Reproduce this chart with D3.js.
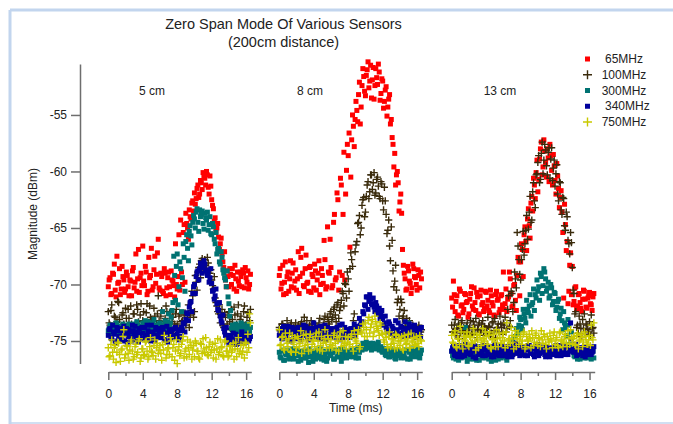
<!DOCTYPE html>
<html><head><meta charset="utf-8">
<script src="https://cdn.jsdelivr.net/npm/d3@7"></script>
<style>
body{margin:0;background:#fff}
svg{display:block}
text{font-family:"Liberation Sans",Arial,sans-serif;fill:#222}
</style>
</head><body>
<svg id="c" width="673" height="424"></svg>
<script>
// ---------------- data ----------------
const chartTitle = ["Zero Span Mode Of Various Sensors", "(200cm distance)"];
const yLabel = "Magnitude (dBm)";
const xLabel = "Time (ms)";
const panelLabels = ["5 cm", "8 cm", "13 cm"];
const seriesNames = ["65MHz", "100MHz", "300MHz", "340MHz", "750MHz"];
const legendLabels = [" 65MHz", "100MHz", "300MHz", " 340MHz", "750MHz"];
const yTicks = [-55, -60, -65, -70, -75];
const xMajorTicks = [0, 4, 8, 12, 16];
const xMinorTicks = [2, 6, 10, 14];

// time samples (ms) of sweep A and sweep B
const times = [0,0.2,0.4,0.6,0.8,1,1.2,1.4,1.6,1.8,
2,2.2,2.4,2.6,2.8,3,3.2,3.4,3.6,3.8,
4,4.2,4.4,4.6,4.8,5,5.2,5.4,5.6,5.8,
6,6.2,6.4,6.6,6.8,7,7.2,7.4,7.6,7.8,
8,8.2,8.4,8.6,8.8,9,9.2,9.4,9.6,9.8,
10,10.2,10.4,10.6,10.8,11,11.2,11.4,11.6,11.8,
12,12.2,12.4,12.6,12.8,13,13.2,13.4,13.6,13.8,
14,14.2,14.4,14.6,14.8,15,15.2,15.4,15.6,15.8,
16,16.2,16.4];
const timesB = [0.1,0.3,0.5,0.7,0.9,1.1,1.3,1.5,1.7,1.9,
2.1,2.3,2.5,2.7,2.9,3.1,3.3,3.5,3.7,3.9,
4.1,4.3,4.5,4.7,4.9,5.1,5.3,5.5,5.7,5.9,
6.1,6.3,6.5,6.7,6.9,7.1,7.3,7.5,7.7,7.9,
8.1,8.3,8.5,8.7,8.9,9.1,9.3,9.5,9.7,9.9,
10.1,10.3,10.5,10.7,10.9,11.1,11.3,11.5,11.7,11.9,
12.1,12.3,12.5,12.7,12.9,13.1,13.3,13.5,13.7,13.9,
14.1,14.3,14.5,14.7,14.9,15.1,15.3,15.5,15.7,15.9,
16.1,16.3,16.5];

// ---- 5 cm ----
const red5 = [-70.2,-69.4,-70.8,-69.1,-70.5,-67.5,-69.8,-70.9,-68.4,-69.6,
-70.4,-69.2,-71.0,-69.7,-68.8,-70.3,-67.3,-69.5,-70.7,-69.0,
-66.6,-70.1,-68.9,-70.6,-69.4,-66.8,-70.2,-67.5,-69.1,-66.0,
-70.5,-69.3,-70.8,-69.0,-70.3,-68.9,-70.9,-69.6,-70.1,-66.4,
-70.4,-65.6,-64.3,-70.0,-64.7,-63.7,-65.0,-63.4,-64.2,-62.6,
-61.9,-62.4,-61.2,-62.0,-61.0,-60.1,-60.6,-60.0,-61.4,-60.4,
-62.5,-63.3,-64.1,-65.0,-65.8,-66.4,-67.3,-68.5,-69.6,-68.8,
-70.2,-69.1,-68.6,-70.4,-69.5,-68.9,-70.1,-69.3,-68.7,-70.3,
-69.4,-68.8,-70.0];
const red5B = [-69.6,-70.9,-69.0,-68.2,-71.1,-69.9,-68.6,-70.4,-69.3,-70.7,
-68.9,-70.2,-69.6,-71.0,-68.5,-69.8,-70.6,-66.9,-69.4,-70.1,
-69.7,-68.4,-70.9,-67.6,-69.2,-70.5,-68.7,-69.9,-67.2,-70.3,
-69.0,-70.6,-68.6,-71.0,-69.4,-70.2,-68.8,-69.7,-71.1,-70.0,
-69.3,-70.5,-68.9,-65.4,-69.8,-64.6,-66.0,-64.0,-62.8,-63.5,
-62.9,-61.5,-62.3,-60.8,-61.6,-60.5,-61.2,-60.3,-62.0,-61.3,
-63.0,-64.4,-65.3,-64.6,-66.9,-65.9,-68.0,-67.1,-70.2,-69.3,
-68.6,-70.0,-69.2,-68.3,-70.6,-69.7,-68.9,-70.2,-69.0,-68.5,
-69.8,-70.4,-69.1];
const brown5 = [-72.4,-73.6,-71.8,-74.0,-72.9,-73.3,-71.6,-74.2,-72.7,-73.5,
-72.1,-73.9,-73.0,-71.9,-74.1,-72.6,-73.4,-72.2,-73.8,-71.7,
-73.2,-74.0,-72.5,-73.6,-71.9,-73.1,-74.2,-72.8,-73.5,-71.0,
-73.7,-72.3,-74.0,-73.0,-72.4,-73.9,-72.7,-73.3,-74.1,-72.6,
-73.5,-72.8,-74.0,-73.2,-72.7,-73.6,-72.9,-73.8,-72.3,-71.0,
-72.4,-69.8,-68.9,-68.2,-67.9,-68.4,-67.8,-68.6,-68.1,-69.0,
-69.6,-70.4,-71.2,-71.9,-72.6,-73.4,-72.2,-73.8,-72.9,-73.5,
-72.4,-73.9,-73.1,-72.0,-73.7,-72.6,-74.0,-72.8,-73.4,-71.9,
-73.6,-72.5,-73.2];
const brown5B = [-73.4,-72.3,-74.3,-72.8,-73.7,-71.5,-73.1,-74.0,-72.5,-73.8,
-73.0,-72.2,-74.2,-73.5,-72.6,-73.9,-71.8,-73.3,-72.7,-74.1,
-72.4,-73.5,-71.7,-74.0,-72.9,-73.6,-72.1,-73.9,-72.6,-73.2,
-72.8,-74.1,-73.3,-71.9,-73.7,-72.5,-74.0,-72.9,-73.5,-72.2,
-73.9,-72.6,-73.3,-74.1,-72.5,-73.2,-71.8,-72.7,-70.6,-72.9,
-69.2,-70.5,-68.5,-69.4,-67.7,-68.8,-68.3,-67.6,-69.3,-68.7,
-70.1,-69.3,-71.6,-72.4,-71.8,-72.9,-73.6,-72.5,-74.0,-72.7,
-73.3,-72.2,-74.1,-72.7,-73.5,-71.8,-73.1,-74.0,-72.4,-73.6,
-72.9,-73.8,-72.2];
const teal5 = [-74.1,-73.6,-74.3,-73.8,-74.0,-73.5,-74.2,-73.9,-73.7,-74.4,
-73.8,-74.1,-73.5,-74.0,-73.7,-74.3,-73.9,-73.6,-74.2,-73.8,
-73.4,-74.0,-73.7,-73.3,-74.1,-73.8,-73.5,-74.2,-73.6,-73.9,
-73.4,-74.0,-73.6,-73.2,-73.8,-72.6,-73.4,-72.3,-67.5,-71.4,
-67.3,-70.2,-68.6,-69.4,-67.6,-66.2,-66.8,-65.3,-65.7,-64.5,
-64.2,-63.6,-64.5,-63.4,-63.8,-64.6,-63.7,-64.3,-65.2,-64.0,
-65.6,-64.9,-66.4,-67.3,-66.8,-68.2,-67.6,-69.0,-69.6,-68.8,
-71.7,-72.3,-73.6,-74.0,-73.5,-74.2,-73.8,-73.4,-74.1,-73.7,
-74.0,-73.5,-74.2];
const teal5B = [-73.9,-74.3,-73.6,-74.0,-73.4,-74.2,-73.7,-74.1,-73.5,-73.9,
-74.2,-73.6,-73.9,-74.4,-73.5,-74.0,-73.3,-74.1,-73.7,-74.3,
-73.6,-73.2,-74.1,-73.8,-73.4,-74.0,-73.1,-73.7,-74.2,-73.5,
-73.9,-72.4,-73.6,-74.1,-73.3,-73.8,-72.9,-71.6,-69.2,-68.4,
-71.8,-68.0,-72.4,-66.4,-70.6,-65.6,-67.9,-64.8,-66.5,-63.9,
-65.0,-63.3,-65.3,-64.0,-63.5,-65.1,-64.1,-63.6,-64.7,-65.5,
-64.6,-66.0,-65.4,-66.9,-68.0,-67.1,-68.7,-69.4,-70.2,-71.1,
-72.8,-73.9,-74.2,-73.6,-74.0,-73.7,-74.3,-73.5,-73.9,-74.1,
-73.6,-74.0,-73.8];
const blue5 = [-74.5,-73.9,-74.8,-74.2,-75.0,-73.8,-74.6,-74.1,-74.9,-73.7,
-74.4,-75.1,-74.0,-74.7,-73.6,-74.5,-74.9,-74.2,-73.9,-74.8,
-74.3,-73.8,-74.9,-74.1,-74.6,-73.6,-74.4,-75.0,-74.0,-74.7,
-73.9,-74.5,-74.2,-74.9,-73.7,-74.4,-74.8,-74.0,-74.6,-73.8,
-74.4,-74.9,-74.1,-74.0,-73.5,-73.1,-72.6,-72.0,-71.5,-70.8,
-70.0,-69.3,-68.8,-68.6,-68.3,-68.5,-68.2,-68.7,-68.9,-69.4,
-69.9,-70.5,-71.0,-71.7,-72.3,-72.8,-73.4,-73.9,-74.5,-74.8,
-75.2,-74.6,-74.9,-75.3,-74.4,-75.0,-74.7,-75.2,-74.5,-74.9,
-75.1,-74.6,-74.8];
const blue5B = [-74.0,-74.7,-73.6,-74.4,-75.2,-74.1,-73.9,-74.8,-74.3,-75.0,
-73.9,-74.6,-74.2,-75.0,-74.1,-73.7,-74.6,-75.1,-74.4,-73.8,
-74.8,-74.5,-73.6,-74.3,-75.0,-74.2,-74.9,-73.8,-74.5,-74.1,
-74.7,-73.8,-74.9,-74.3,-75.1,-74.0,-74.2,-74.7,-73.9,-74.5,
-74.0,-74.6,-73.8,-73.4,-74.2,-72.5,-73.2,-71.6,-72.4,-70.2,
-70.8,-68.9,-69.6,-68.1,-69.0,-67.9,-68.8,-69.2,-69.8,-68.6,
-70.6,-71.3,-70.4,-72.2,-71.6,-73.2,-72.7,-74.2,-73.8,-75.0,
-74.5,-75.1,-74.3,-74.8,-75.3,-74.6,-74.9,-74.2,-75.2,-74.7,
-74.4,-75.0,-74.6];
const yellow5 = [-75.6,-76.3,-74.9,-76.6,-75.4,-76.0,-75.2,-76.8,-75.7,-74.0,
-76.2,-75.5,-76.7,-75.1,-75.9,-76.4,-75.3,-76.0,-74.8,-76.5,
-75.7,-76.2,-75.0,-76.6,-75.5,-75.9,-76.3,-74.9,-75.6,-76.1,
-75.4,-76.7,-75.8,-75.1,-76.2,-75.6,-74.7,-76.4,-75.3,-75.9,
-77.0,-75.5,-76.1,-75.0,-76.5,-75.7,-74.9,-76.2,-75.4,-75.8,
-76.4,-75.2,-75.9,-76.6,-75.3,-74.8,-76.0,-75.6,-76.3,-75.1,
-75.8,-76.5,-75.2,-75.7,-76.2,-74.9,-75.5,-76.4,-75.0,-75.9,
-76.3,-75.4,-75.8,-76.6,-75.1,-75.7,-76.1,-75.3,-75.9,-76.5,
-75.2,-74.4,-72.6];
const yellow5B = [-76.4,-75.3,-76.0,-75.6,-76.9,-75.1,-76.2,-75.8,-74.6,-76.5,
-75.4,-76.1,-75.8,-74.9,-76.6,-75.5,-76.2,-75.0,-76.8,-75.7,
-76.3,-75.1,-75.9,-76.4,-74.7,-76.0,-75.4,-76.6,-75.2,-75.8,
-76.1,-75.3,-74.5,-76.5,-75.7,-76.2,-75.0,-75.6,-76.7,-74.9,
-75.8,-76.3,-75.3,-74.6,-75.9,-76.4,-75.6,-75.1,-76.6,-75.4,
-75.0,-75.9,-76.5,-75.2,-76.1,-75.7,-74.7,-76.2,-75.5,-76.0,
-75.3,-75.8,-76.6,-74.8,-76.0,-75.6,-76.3,-75.1,-75.9,-76.4,
-75.5,-76.0,-75.2,-75.7,-76.4,-74.7,-75.9,-76.2,-75.4,-75.1,
-76.0,-75.6,-73.4];

// ---- 8 cm ----
const red8 = [-69.2,-70.4,-68.3,-69.8,-70.8,-68.9,-69.5,-70.2,-68.1,-69.7,
-70.5,-67.1,-69.3,-66.8,-70.1,-68.6,-69.9,-70.6,-68.4,-69.1,
-70.3,-68.8,-69.6,-67.9,-70.0,-69.2,-66.1,-70.4,-64.9,-69.0,
-68.5,-70.1,-63.8,-69.4,-62.5,-68.9,-61.2,-63.8,-69.6,-59.9,
-58.6,-66.7,-57.2,-56.0,-55.4,-54.6,-53.2,-55.8,-52.4,-51.6,
-53.3,-51.0,-52.6,-50.6,-51.9,-53.6,-50.9,-52.3,-51.2,-53.1,
-52.0,-53.8,-52.5,-54.3,-53.2,-55.4,-57.6,-58.4,-60.3,-61.0,
-62.7,-63.7,-68.3,-69.5,-70.4,-68.8,-69.9,-70.3,-68.6,-69.4,
-70.5,-69.2,-68.9];
const red8B = [-68.6,-69.9,-70.9,-68.0,-69.3,-70.6,-67.9,-69.0,-70.3,-68.7,
-69.5,-70.8,-67.6,-69.0,-70.2,-67.4,-69.8,-68.5,-70.7,-69.3,
-68.2,-70.5,-69.0,-70.9,-68.6,-69.9,-67.8,-70.2,-68.9,-66.0,
-70.3,-64.5,-69.6,-61.9,-70.5,-60.6,-69.2,-58.3,-62.0,-57.6,
-56.6,-60.5,-55.0,-57.8,-53.8,-55.6,-52.1,-54.3,-50.9,-52.9,
-51.5,-50.3,-52.0,-53.5,-50.8,-52.4,-51.7,-50.5,-53.7,-51.8,
-54.4,-52.8,-55.1,-53.6,-55.8,-57.0,-59.6,-61.2,-60.0,-63.5,
-62.0,-66.9,-69.0,-70.5,-68.4,-69.7,-70.8,-68.2,-69.3,-70.0,
-68.7,-70.3,-69.5];
const brown8 = [-73.8,-74.3,-73.5,-74.0,-74.4,-73.7,-74.1,-73.4,-74.2,-73.9,
-74.3,-73.6,-74.0,-73.3,-73.8,-74.4,-73.2,-73.9,-74.1,-73.5,
-74.0,-73.7,-74.3,-73.4,-73.9,-74.2,-73.1,-73.8,-72.9,-73.5,
-72.4,-72.9,-72.0,-73.3,-71.6,-72.3,-71.4,-70.8,-69.9,-71.2,
-69.5,-68.6,-67.8,-73.2,-67.1,-66.2,-64.5,-65.6,-63.0,-62.3,
-63.6,-61.2,-62.4,-60.3,-61.6,-60.1,-61.9,-60.5,-62.2,-60.9,
-62.6,-61.4,-63.8,-65.2,-66.6,-64.9,-68.8,-69.7,-70.5,-71.3,
-72.2,-71.6,-72.8,-73.4,-73.0,-74.1,-73.7,-74.3,-73.9,-74.5,
-74.0,-73.6,-74.2];
const brown8B = [-74.1,-73.5,-74.4,-73.9,-73.2,-74.0,-73.6,-74.3,-73.8,-73.4,
-73.9,-74.2,-73.5,-74.0,-72.9,-73.7,-74.3,-73.6,-73.2,-74.0,
-73.5,-74.1,-73.8,-73.0,-74.2,-73.6,-72.8,-73.9,-73.3,-72.6,
-73.1,-72.2,-72.7,-71.8,-73.0,-72.0,-70.6,-71.9,-70.0,-68.9,
-70.6,-67.2,-68.4,-72.6,-66.5,-64.6,-63.9,-65.0,-62.5,-64.0,
-62.2,-60.9,-61.8,-60.3,-61.0,-62.1,-60.7,-61.3,-62.4,-61.1,
-63.4,-62.6,-65.5,-64.3,-67.9,-66.1,-70.2,-68.3,-71.6,-72.8,
-71.3,-73.0,-72.3,-73.7,-74.0,-73.2,-74.4,-73.6,-74.1,-73.8,
-74.3,-73.9,-74.0];
const teal8 = [-76.0,-76.5,-75.8,-76.7,-76.2,-75.9,-76.6,-76.1,-76.4,-75.7,
-76.3,-76.8,-75.9,-76.2,-76.5,-75.8,-76.4,-76.9,-76.0,-76.3,
-75.9,-76.6,-76.1,-76.4,-75.7,-76.2,-76.7,-76.0,-76.5,-75.8,
-76.3,-76.0,-76.6,-75.9,-76.4,-76.1,-76.8,-75.7,-76.2,-76.5,
-76.0,-76.3,-75.8,-76.4,-76.1,-75.9,-76.5,-75.6,-75.8,-75.4,
-75.7,-75.3,-75.6,-75.2,-75.5,-75.3,-75.7,-75.4,-75.8,-75.5,
-76.0,-75.7,-76.3,-75.9,-76.4,-76.1,-75.8,-76.5,-76.2,-75.9,
-76.3,-76.0,-76.0,-76.5,-75.8,-73.4,-76.6,-75.9,-76.3,-76.0,
-75.7,-76.4,-76.1];
const teal8B = [-76.4,-75.9,-76.7,-76.1,-75.8,-76.5,-76.2,-75.7,-76.6,-76.0,
-75.8,-76.3,-76.7,-76.0,-75.9,-76.5,-76.2,-75.7,-76.4,-76.8,
-76.2,-75.8,-76.5,-76.0,-76.6,-75.9,-76.3,-76.8,-75.7,-76.2,
-76.0,-76.6,-75.8,-76.4,-76.2,-75.7,-76.5,-76.1,-75.9,-76.3,
-76.4,-75.9,-76.2,-75.8,-76.5,-75.6,-76.0,-75.5,-75.2,-75.7,
-75.1,-75.6,-75.3,-75.8,-75.2,-75.6,-75.4,-75.1,-75.6,-75.9,
-75.7,-76.2,-75.9,-76.4,-75.8,-76.3,-76.0,-76.6,-75.8,-76.1,
-76.5,-75.9,-76.2,-75.8,-76.6,-76.0,-76.3,-75.7,-76.4,-76.1,
-76.0,-76.5,-75.8];
const blue8 = [-74.5,-73.9,-74.8,-74.1,-74.6,-73.7,-74.3,-75.0,-74.0,-74.4,
-74.8,-73.8,-74.2,-74.7,-73.6,-74.5,-74.1,-74.9,-73.9,-74.3,
-73.4,-74.6,-74.0,-74.8,-73.7,-74.4,-74.2,-74.9,-73.8,-74.5,
-74.1,-74.7,-73.9,-74.3,-74.8,-73.6,-74.2,-74.6,-73.8,-74.4,
-74.0,-74.7,-74.2,-73.9,-74.5,-73.7,-74.1,-73.6,-73.3,-72.6,
-71.9,-71.1,-71.5,-71.3,-71.8,-72.0,-71.6,-72.3,-72.1,-72.7,
-73.0,-73.4,-73.8,-74.2,-73.5,-74.4,-73.9,-74.6,-74.1,-73.4,
-74.5,-73.8,-74.2,-73.3,-74.6,-74.0,-73.7,-74.4,-74.1,-74.7,
-73.9,-74.3,-74.6];
const blue8B = [-74.2,-74.8,-73.7,-74.5,-74.0,-74.9,-74.3,-73.8,-74.6,-74.1,
-73.9,-74.5,-74.9,-74.0,-74.4,-73.7,-74.7,-74.2,-74.8,-73.9,
-74.3,-73.8,-74.5,-74.0,-74.8,-74.1,-73.6,-74.4,-74.7,-73.9,
-74.6,-74.0,-74.5,-73.8,-74.2,-74.9,-73.5,-74.3,-74.7,-74.0,
-74.4,-73.9,-74.6,-73.5,-74.2,-73.8,-73.0,-73.4,-72.4,-71.8,
-71.1,-72.2,-70.9,-71.7,-71.2,-72.4,-71.9,-72.6,-73.0,-72.3,
-73.6,-72.8,-74.0,-73.3,-74.3,-73.7,-74.5,-73.2,-74.0,-74.4,
-73.7,-74.3,-74.6,-73.9,-74.2,-73.5,-74.5,-74.0,-73.6,-74.3,
-74.5,-74.0,-73.8];
const yellow8 = [-74.0,-75.3,-74.6,-75.8,-74.9,-75.5,-74.3,-76.0,-75.1,-74.7,
-75.6,-74.8,-75.2,-76.1,-74.5,-75.4,-74.9,-75.9,-74.4,-75.3,
-75.0,-74.6,-75.7,-74.2,-75.4,-75.9,-74.8,-75.1,-74.5,-75.6,
-74.9,-75.4,-74.3,-75.8,-75.0,-74.6,-75.5,-74.1,-75.2,-75.7,
-74.7,-75.3,-74.4,-75.9,-74.8,-75.2,-74.0,-75.5,-74.3,-73.8,
-73.4,-74.6,-72.9,-73.8,-73.1,-74.2,-73.3,-73.9,-74.5,-73.6,
-74.4,-75.1,-74.7,-75.6,-74.2,-75.3,-74.9,-75.7,-74.5,-75.0,
-75.4,-74.6,-75.8,-74.9,-75.2,-74.4,-75.6,-75.0,-74.7,-75.3,
-74.8,-75.5,-74.9];
const yellow8B = [-75.4,-74.7,-75.7,-74.3,-75.2,-74.8,-75.9,-74.5,-75.3,-76.0,
-74.6,-75.5,-74.1,-75.0,-75.7,-74.4,-75.3,-74.7,-75.8,-74.9,
-75.5,-74.3,-75.0,-75.8,-74.6,-75.2,-74.0,-75.6,-74.8,-75.3,
-75.6,-74.5,-75.2,-74.7,-75.9,-74.2,-75.0,-75.4,-74.6,-75.1,
-75.3,-74.6,-75.5,-74.1,-75.0,-74.4,-75.7,-74.2,-73.5,-74.6,
-74.0,-73.2,-74.3,-73.5,-74.6,-72.8,-73.7,-74.1,-73.4,-74.3,
-74.9,-74.3,-75.3,-74.6,-75.5,-74.8,-75.2,-74.4,-75.6,-74.7,
-75.0,-75.7,-74.5,-75.3,-74.8,-75.6,-74.3,-75.1,-75.4,-74.6,
-75.2,-74.5,-75.0];

// ---- 13 cm ----
const red13 = [-71.2,-69.7,-72.4,-71.0,-72.8,-70.6,-71.8,-72.2,-70.9,-71.5,
-72.6,-70.8,-71.9,-70.3,-72.3,-71.1,-72.7,-70.5,-71.6,-72.1,
-70.7,-71.4,-72.5,-71.0,-71.9,-72.8,-70.6,-71.3,-72.2,-70.9,
-68.9,-71.7,-72.4,-71.1,-69.5,-72.0,-70.1,-71.4,-69.2,-68.0,
-68.0,-66.9,-65.6,-66.2,-64.2,-64.8,-62.8,-63.5,-61.2,-60.1,
-61.8,-58.9,-57.4,-59.6,-58.2,-60.5,-58.8,-57.6,-59.9,-58.5,
-60.8,-59.3,-61.5,-62.3,-63.6,-71.2,-64.7,-66.2,-70.6,-67.2,
-68.4,-71.5,-70.2,-71.9,-70.8,-72.1,-71.3,-70.6,-72.0,-71.2,
-70.7,-71.8,-71.1];
const red13B = [-72.0,-70.9,-71.5,-72.7,-70.4,-71.9,-72.5,-70.8,-71.6,-72.9,
-71.3,-70.2,-72.2,-71.6,-70.7,-72.6,-71.0,-71.8,-72.4,-70.6,
-71.9,-72.3,-70.5,-71.6,-72.7,-70.9,-71.4,-72.5,-71.0,-71.8,
-72.2,-70.4,-71.3,-68.9,-70.8,-71.9,-70.0,-72.3,-67.6,-71.0,
-66.4,-69.3,-64.9,-67.0,-63.3,-65.9,-62.2,-60.6,-62.4,-59.0,
-60.7,-58.0,-60.3,-57.2,-59.2,-58.0,-60.9,-58.6,-61.2,-59.5,
-62.0,-60.4,-63.2,-61.7,-65.4,-62.9,-67.0,-71.7,-68.3,-70.9,
-71.8,-70.3,-72.2,-70.9,-71.6,-72.4,-70.5,-71.3,-72.1,-71.0,
-71.7,-72.3,-70.8];
const brown13 = [-73.6,-74.2,-73.1,-73.9,-73.5,-74.3,-73.2,-73.8,-74.2,-73.4,
-73.9,-73.2,-74.4,-73.6,-73.0,-74.0,-73.4,-74.1,-73.2,-73.7,
-73.9,-72.9,-73.8,-74.3,-73.3,-73.0,-74.0,-73.5,-72.8,-73.8,
-73.4,-72.9,-73.9,-71.0,-73.2,-70.8,-71.6,-69.5,-65.4,-67.8,
-69.6,-66.9,-67.4,-65.2,-66.0,-63.6,-64.5,-61.8,-62.6,-60.3,
-59.2,-61.0,-58.4,-60.2,-57.6,-59.5,-58.3,-60.6,-57.9,-59.7,
-61.3,-59.4,-62.6,-61.0,-63.8,-62.4,-65.2,-64.0,-66.4,-65.4,
-68.5,-70.8,-72.4,-73.6,-72.8,-73.9,-73.1,-72.6,-73.5,-74.0,
-73.3,-72.7,-73.8];
const brown13B = [-74.2,-73.6,-74.5,-73.9,-74.8,-73.4,-74.1,-74.6,-73.7,-74.3,
-73.8,-74.4,-73.3,-74.0,-74.7,-73.6,-74.2,-73.5,-74.5,-73.9,
-74.3,-73.7,-74.6,-73.4,-74.1,-74.7,-73.8,-74.2,-73.5,-74.4,
-73.6,-74.2,-72.2,-73.7,-70.6,-72.4,-68.9,-70.3,-66.6,-69.1,
-67.8,-65.3,-66.4,-63.9,-65.1,-62.2,-64.3,-61.0,-63.2,-60.2,
-58.6,-60.7,-57.4,-59.0,-58.1,-60.3,-57.9,-58.9,-60.8,-59.0,
-60.2,-62.0,-60.9,-63.4,-62.3,-64.8,-63.6,-66.1,-67.3,-66.3,
-70.5,-72.6,-73.8,-74.3,-73.5,-74.6,-73.9,-74.4,-73.6,-74.2,
-74.5,-73.9,-74.3];
const teal13 = [-75.9,-76.5,-75.7,-76.2,-76.7,-76.0,-76.0,-76.4,-73.8,-76.8,
-76.1,-76.3,-75.8,-76.6,-76.2,-75.5,-76.7,-76.0,-76.4,-75.9,
-76.5,-75.8,-76.2,-76.8,-75.6,-76.3,-76.1,-76.6,-75.7,-76.2,
-76.4,-75.9,-76.7,-76.1,-75.5,-76.2,-75.7,-74.6,-74.0,-73.6,
-73.1,-74.0,-72.6,-73.4,-72.2,-71.9,-72.8,-71.6,-72.3,-71.2,
-70.6,-71.4,-69.3,-70.1,-68.9,-70.6,-69.8,-71.0,-70.3,-71.5,
-70.8,-72.0,-71.3,-72.6,-73.2,-72.4,-73.8,-74.5,-73.6,-74.8,
-75.8,-76.3,-75.9,-76.6,-76.1,-76.4,-75.7,-76.5,-76.0,-76.3,
-76.2,-76.6,-75.9];
const teal13B = [-76.3,-75.8,-76.6,-76.1,-75.9,-76.5,-76.2,-75.7,-76.4,-76.0,
-76.6,-75.9,-76.3,-76.0,-76.7,-75.8,-76.2,-76.5,-75.6,-76.4,
-76.0,-76.6,-75.9,-76.3,-76.1,-76.7,-75.8,-76.2,-76.5,-75.9,
-76.2,-76.5,-75.8,-76.1,-75.6,-74.9,-75.3,-73.9,-74.3,-72.9,
-73.7,-72.2,-73.0,-71.4,-72.5,-70.9,-71.8,-70.4,-70.9,-69.6,
-70.2,-69.0,-70.8,-68.6,-69.5,-70.3,-71.2,-70.0,-71.8,-70.7,
-72.3,-71.5,-73.0,-72.1,-74.0,-73.4,-74.6,-73.1,-75.3,-74.2,
-76.0,-76.4,-75.7,-76.2,-76.6,-75.9,-76.3,-76.0,-76.5,-75.8,
-76.3,-75.9,-76.5];
const blue13 = [-75.9,-75.4,-76.3,-75.7,-76.0,-75.5,-76.4,-75.8,-75.3,-76.1,
-75.6,-76.2,-75.9,-75.4,-76.5,-75.7,-76.0,-75.5,-76.3,-75.8,
-75.4,-76.1,-75.7,-76.4,-75.9,-75.3,-76.2,-75.6,-76.0,-75.8,
-76.3,-75.5,-75.9,-76.1,-75.6,-76.4,-75.7,-75.2,-76.0,-75.8,
-75.5,-76.2,-75.9,-75.6,-76.3,-75.4,-76.0,-75.7,-76.4,-75.8,
-75.3,-76.1,-75.6,-75.9,-76.2,-75.5,-75.8,-76.4,-75.7,-76.0,
-75.6,-76.3,-75.9,-75.4,-76.1,-75.7,-76.2,-75.5,-75.8,-73.4,
-75.7,-76.0,-75.3,-76.2,-75.6,-75.9,-76.3,-75.5,-76.1,-75.8,
-75.6,-76.2,-75.9];
const blue13B = [-75.6,-76.2,-75.8,-76.4,-75.4,-76.0,-75.7,-76.3,-75.9,-75.5,
-76.1,-75.7,-76.4,-75.5,-75.9,-76.2,-75.6,-76.0,-75.4,-76.3,
-75.8,-76.2,-75.5,-76.0,-76.4,-75.7,-75.9,-76.3,-75.4,-76.1,
-75.7,-76.0,-76.4,-75.5,-75.8,-76.2,-75.6,-76.1,-75.4,-76.3,
-75.9,-75.6,-76.3,-75.8,-75.4,-76.1,-75.7,-76.2,-75.5,-76.0,
-76.3,-75.7,-76.0,-75.5,-76.4,-75.8,-76.1,-75.6,-76.2,-75.9,
-75.4,-76.0,-75.7,-76.3,-75.8,-76.1,-75.5,-76.2,-75.9,-74.8,
-75.9,-75.5,-76.3,-75.8,-76.1,-75.6,-76.0,-76.4,-75.7,-76.2,
-75.8,-76.0,-75.5];
const yellow13 = [-74.5,-75.2,-74.1,-75.6,-74.8,-73.7,-75.3,-74.6,-75.0,-74.2,
-75.5,-74.7,-75.1,-74.3,-75.8,-74.9,-74.4,-75.4,-73.9,-75.0,
-74.6,-75.3,-74.2,-75.7,-74.8,-75.1,-74.0,-75.5,-74.7,-75.2,
-74.3,-75.6,-73.4,-74.9,-75.2,-74.5,-75.7,-74.1,-74.8,-75.3,
-74.6,-75.0,-74.2,-75.5,-74.9,-74.4,-75.6,-74.7,-75.1,-74.3,
-75.4,-74.8,-74.1,-75.2,-74.6,-75.7,-74.9,-74.3,-75.0,-74.5,
-75.3,-74.7,-75.6,-74.2,-74.9,-75.1,-74.4,-75.5,-74.8,-74.0,
-75.2,-74.6,-75.4,-74.3,-75.0,-74.7,-75.5,-74.2,-74.9,-75.3,
-74.5,-73.6,-74.9];
const yellow13B = [-75.1,-74.4,-75.5,-74.8,-75.3,-74.2,-75.7,-74.9,-74.5,-75.4,
-74.6,-75.2,-73.9,-75.0,-74.5,-75.6,-74.7,-75.1,-74.8,-74.2,
-75.3,-74.5,-75.6,-74.9,-74.4,-75.5,-74.8,-74.3,-75.2,-74.7,
-75.0,-74.2,-75.4,-74.8,-73.8,-75.1,-74.6,-75.5,-74.3,-74.9,
-75.3,-74.4,-75.7,-74.6,-75.0,-74.8,-74.1,-75.4,-74.5,-75.2,
-74.7,-75.5,-74.9,-74.4,-75.3,-74.6,-75.1,-74.8,-75.6,-74.2,
-74.9,-75.4,-74.3,-75.0,-75.5,-74.6,-75.2,-74.1,-75.3,-74.7,
-74.8,-75.3,-74.5,-75.7,-74.9,-74.4,-75.1,-74.6,-75.3,-74.9,
-75.4,-74.7,-73.4];

// ---------------- styles / layout ----------------
const seriesColors = ["#ff0000", "#3a2b0c", "#007272", "#00009c", "#c9c900"];
const seriesShapes = ["square", "cross", "square", "square", "cross"];
const panelStarts = [108.3, 279.3, 451.7];
const panelWidth = 143;
const panelLabelPos = [[152, 95], [310, 95], [500, 95]];

const panels = [
  {label: panelLabels[0], series: [[red5, red5B], [brown5, brown5B], [teal5, teal5B], [blue5, blue5B], [yellow5, yellow5B]]},
  {label: panelLabels[1], series: [[red8, red8B], [brown8, brown8B], [teal8, teal8B], [blue8, blue8B], [yellow8, yellow8B]]},
  {label: panelLabels[2], series: [[red13, red13B], [brown13, brown13B], [teal13, teal13B], [blue13, blue13B], [yellow13, yellow13B]]}
];

const svg = d3.select("#c");
svg.append("rect").attr("width", 673).attr("height", 424).attr("fill", "#fff");

// outer frame
const frameColor = "#c2d5ee";
svg.append("line").attr("x1", 10).attr("x2", 673).attr("y1", 10).attr("y2", 10)
  .attr("stroke", frameColor).attr("stroke-width", 3);
svg.append("line").attr("x1", 10).attr("x2", 10).attr("y1", 10).attr("y2", 424)
  .attr("stroke", frameColor).attr("stroke-width", 3);
svg.append("line").attr("x1", 10).attr("x2", 673).attr("y1", 423).attr("y2", 423)
  .attr("stroke", frameColor).attr("stroke-width", 1.5);

// title
svg.selectAll("text.title").data(chartTitle).join("text")
  .attr("class", "title")
  .attr("x", 283.5).attr("y", (d, i) => 29 + i * 18)
  .attr("text-anchor", "middle")
  .style("font-family", "'Liberation Sans Narrow','Arial Narrow',Arial,sans-serif")
  .style("font-size", "14.5px")
  .text(d => d);

// y scale & axis
const y = d3.scaleLinear().domain([-77, -50.5]).range([363.6, 64.1]);
const axisColor = "#6e6e6e";
const gy = svg.append("g").attr("transform", "translate(80,0)")
  .call(d3.axisLeft(y).tickValues(yTicks).tickSize(9).tickSizeOuter(0).tickPadding(4));
gy.select(".domain").attr("stroke", axisColor).attr("stroke-width", 1.5);
gy.selectAll(".tick line").attr("stroke", axisColor).attr("stroke-width", 1.5);
gy.selectAll(".tick text").style("font-size", "12px").attr("fill", "#222")
  .text(d => "-" + Math.abs(d));

svg.append("text")
  .attr("transform", "translate(33,214) rotate(-90)")
  .attr("text-anchor", "middle").attr("dominant-baseline", "central")
  .style("font-size", "12px").text(yLabel);

// panels
const shapeCross = "M-3.6,0H3.6M0,-3.6V3.6";
const sweepTimes = [times, timesB];
panels.forEach((p, pi) => {
  const x = d3.scaleLinear().domain([0, 16.6]).range([panelStarts[pi], panelStarts[pi] + panelWidth]);
  const g = svg.append("g");
  p.series.forEach((sweeps, si) => {
    const pts = [];
    sweeps.forEach((vals, k) => vals.forEach((v, i) => pts.push({t: sweepTimes[k][i], v})));
    const color = seriesColors[si];
    if (seriesShapes[si] === "square") {
      g.append("g").selectAll("rect").data(pts).join("rect")
        .attr("x", d => x(d.t) - 2.5).attr("y", d => y(d.v) - 2.5)
        .attr("width", 5).attr("height", 5).attr("fill", color);
    } else {
      g.append("g").selectAll("path").data(pts).join("path")
        .attr("transform", d => `translate(${x(d.t)},${y(d.v)})`)
        .attr("d", shapeCross).attr("stroke", color).attr("stroke-width", 1.4).attr("fill", "none");
    }
  });
  // x axis: major + minor ticks
  const gx = svg.append("g").attr("transform", "translate(0,372)")
    .call(d3.axisBottom(x).tickValues(xMajorTicks).tickSize(8).tickSizeOuter(0).tickPadding(9));
  gx.select(".domain").attr("stroke", axisColor).attr("stroke-width", 1.5);
  gx.selectAll(".tick line").attr("stroke", axisColor).attr("stroke-width", 1.5);
  gx.selectAll(".tick text").style("font-size", "12px").attr("fill", "#222");
  const gm = svg.append("g").attr("transform", "translate(0,372)")
    .call(d3.axisBottom(x).tickValues(xMinorTicks).tickSize(4).tickSizeOuter(0).tickFormat(""));
  gm.select(".domain").remove();
  gm.selectAll(".tick line").attr("stroke", axisColor).attr("stroke-width", 1.5);

  svg.append("text").attr("x", panelLabelPos[pi][0]).attr("y", panelLabelPos[pi][1])
    .attr("text-anchor", "middle").style("font-size", "12px").text(p.label);
});

svg.append("text").attr("x", 355.7).attr("y", 411.5).attr("text-anchor", "middle")
  .style("font-size", "12px").text(xLabel);

// legend
const lg = svg.append("g");
legendLabels.forEach((lab, i) => {
  const cy = 59 + i * 15.75;
  if (seriesShapes[i] === "square") {
    lg.append("rect").attr("x", 585).attr("y", cy - 2.5).attr("width", 5).attr("height", 5)
      .attr("fill", seriesColors[i]);
  } else {
    lg.append("path").attr("transform", `translate(587.5,${cy})`).attr("d", "M-4.5,0H4.5M0,-4.5V4.5")
      .attr("stroke", seriesColors[i]).attr("stroke-width", 1.4);
  }
  lg.append("text").attr("x", 601.7).attr("y", cy).attr("dominant-baseline", "central")
    .style("font-size", "12px").style("white-space", "pre").text(lab);
});
</script>
</body></html>
